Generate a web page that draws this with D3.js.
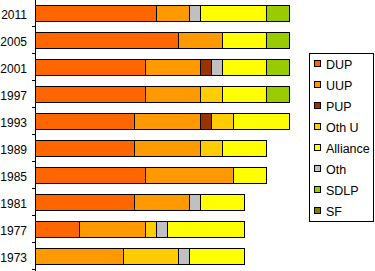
<!DOCTYPE html>
<html>
<head>
<meta charset="utf-8">
<script src="https://cdn.jsdelivr.net/npm/d3@7"></script>
<style>
  body { margin: 0; background: #fff; }
  svg { display: block; font-family: "Liberation Sans", Arial, sans-serif; }
</style>
</head>
<body>
<svg width="375" height="271"></svg>
<script>
// seats per party, one value per year (top row first)
var years = ["2011", "2005", "2001", "1997", "1993", "1989", "1985", "1981", "1977", "1973"];
var DUP      = [11, 13, 10, 10, 9, 9, 10, 9, 4, 0];
var UUP      = [3, 4, 5, 5, 6, 6, 8, 5, 6, 8];
var PUP      = [0, 0, 1, 0, 1, 0, 0, 0, 0, 0];
var OthU     = [0, 0, 0, 2, 2, 2, 0, 0, 1, 5];
var Alliance = [6, 4, 4, 4, 5, 4, 3, 4, 7, 5];
var Oth      = [1, 0, 1, 0, 0, 0, 0, 1, 1, 1];
var SDLP     = [2, 2, 2, 2, 0, 0, 0, 0, 0, 0];
var SF       = [0, 0, 0, 0, 0, 0, 0, 0, 0, 0];

var legendOrder = ["DUP", "UUP", "PUP", "Oth U", "Alliance", "Oth", "SDLP", "SF"];
var stackOrder  = ["DUP", "UUP", "PUP", "Oth U", "Oth", "Alliance", "SDLP", "SF"];

var colors = {
  "DUP": "#ff6600", "UUP": "#ff9900", "PUP": "#993300", "Oth U": "#ffcc00",
  "Alliance": "#ffff00", "Oth": "#c0c0c0", "SDLP": "#99cc00", "SF": "#808000"
};

var series = {
  "DUP": DUP, "UUP": UUP, "PUP": PUP, "Oth U": OthU,
  "Alliance": Alliance, "Oth": Oth, "SDLP": SDLP, "SF": SF
};

var rows = years.map(function(y, i) {
  var r = { year: y };
  stackOrder.forEach(function(p) { r[p] = series[p][i]; });
  return r;
});

var svg = d3.select("svg");

var x = d3.scaleLinear().domain([0, 23]).range([35, 288.5]);
var y = d3.scaleBand().domain(years).range([0, 270])
    .paddingInner(10 / 27).paddingOuter(5 / 27);

var stacked = d3.stack().keys(stackOrder)(rows);

svg.append("g").selectAll("g")
  .data(stacked)
  .join("g")
    .attr("fill", function(d) { return colors[d.key]; })
  .selectAll("rect")
  .data(function(d) { return d.filter(function(s) { return s[1] > s[0]; }); })
  .join("rect")
    .attr("x", function(d) { return Math.round(x(d[0])) + 0.5; })
    .attr("y", function(d) { return y(d.data.year) + 0.5; })
    .attr("width", function(d) { return Math.round(x(d[1])) - Math.round(x(d[0])); })
    .attr("height", y.bandwidth() - 1)
    .attr("stroke", "#000")
    .attr("stroke-width", 1);

// axis: labels centred on bars, ticks between categories
var axis = svg.append("g")
    .attr("transform", "translate(35,0)")
    .call(d3.axisLeft(y).tickSize(0).tickPadding(8));
axis.select(".domain").remove();
axis.selectAll("text")
    .attr("font-size", 12)
    .attr("dy", "0.45em")
    .attr("font-family", "Liberation Sans, Arial, sans-serif")
    .attr("fill", "#000");

svg.append("line")
    .attr("x1", 35.5).attr("x2", 35.5)
    .attr("y1", 0).attr("y2", 271)
    .attr("stroke", "#000");

svg.append("g").selectAll("line")
  .data(years)
  .join("line")
    .attr("x1", 32).attr("x2", 35)
    .attr("y1", function(d) { return y(d) - 5 + y.step() - 0.5; })
    .attr("y2", function(d) { return y(d) - 5 + y.step() - 0.5; })
    .attr("stroke", "#000");

// legend
var legend = svg.append("g");
legend.append("rect")
    .attr("x", 309.5).attr("y", 53.5)
    .attr("width", 64).attr("height", 168)
    .attr("fill", "#fff").attr("stroke", "#000");

var item = legend.selectAll("g.item")
  .data(legendOrder)
  .join("g")
    .attr("class", "item")
    .attr("transform", function(d, i) { return "translate(0," + (64 + i * 21) + ")"; });

item.append("rect")
    .attr("x", 314.5).attr("y", -3.5)
    .attr("width", 6).attr("height", 6)
    .attr("fill", function(d) { return colors[d]; })
    .attr("stroke", "#000");

item.append("text")
    .attr("x", 326).attr("y", 4.5)
    .attr("font-size", 12.5)
    .text(function(d) { return d; });
</script>
</body>
</html>
